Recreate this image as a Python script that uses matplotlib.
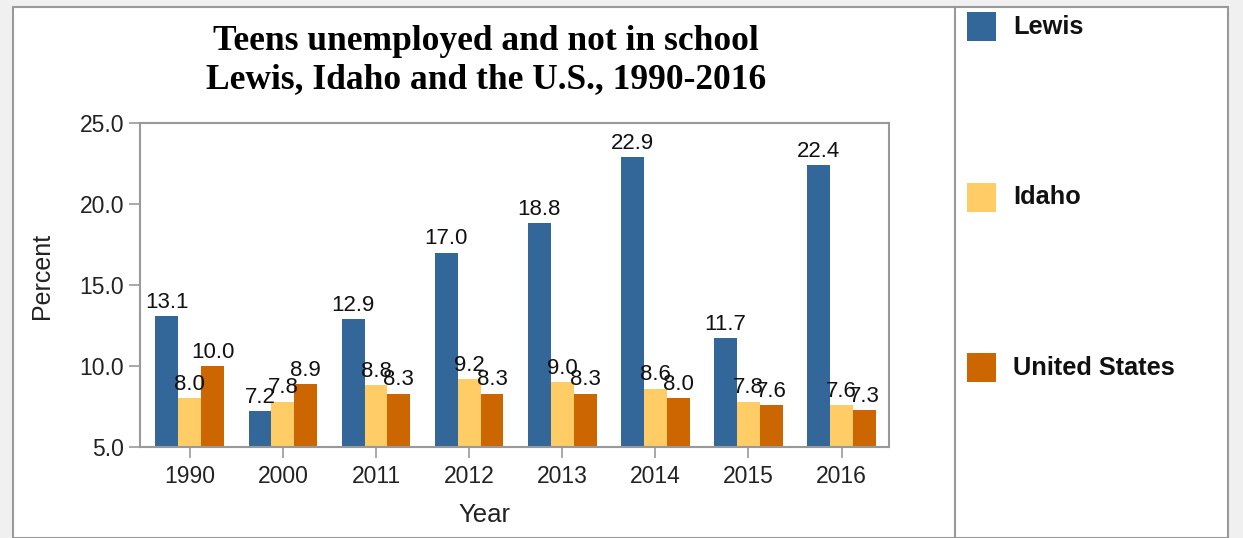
import numpy as np
import matplotlib.pyplot as plt
from matplotlib.patches import Rectangle
from matplotlib.lines import Line2D

years = ['1990', '2000', '2011', '2012', '2013', '2014', '2015', '2016']
lewis = [13.1, 7.2, 12.9, 17.0, 18.8, 22.9, 11.7, 22.4]
idaho = [8.0, 7.8, 8.8, 9.2, 9.0, 8.6, 7.8, 7.6]
us = [10.0, 8.9, 8.3, 8.3, 8.3, 8.0, 7.6, 7.3]
series = [('Lewis', lewis, '#336699'), ('Idaho', idaho, '#FFCC66'), ('United States', us, '#CC6600')]

W, H = 1243, 538
fig = plt.figure(figsize=(W / 100, H / 100), dpi=100, facecolor='#f0f0f0')

# white panel and divider (behind the axes)
fig.patches.append(Rectangle((13 / W, 0), (1228 - 13) / W, (H - 7) / H, transform=fig.transFigure,
                             facecolor='white', edgecolor='#999999', linewidth=1.5, zorder=-10))
fig.lines.append(Line2D([955 / W, 955 / W], [0, (H - 7) / H], transform=fig.transFigure,
                        color='#999999', linewidth=1.5, zorder=-5))

ax = fig.add_axes([140 / W, (H - 447) / H, (889 - 140) / W, (447 - 123) / H])
ax.set_facecolor('white')
x = np.arange(len(years))
bw = 0.246
for i, (name, vals, col) in enumerate(series):
    pos = x + (i - 1) * bw
    ax.bar(pos, [v - 5 for v in vals], bw, bottom=5, color=col, label=name)
    for p, v in zip(pos, vals):
        ax.text(p, v + 0.2, f'{v:.1f}', ha='center', va='bottom', fontsize=16,
                family='Liberation Sans', color='#111111')

ax.set_xlim(-0.535, len(years) - 0.49)
ax.set_ylim(5, 25)
ax.set_yticks([5, 10, 15, 20, 25])
ax.set_yticklabels([f'{t:.1f}' for t in [5, 10, 15, 20, 25]])
ax.set_xticks(x)
ax.set_xticklabels(years)
for s in ax.spines.values():
    s.set_color('#999999')
    s.set_linewidth(1.5)
ax.tick_params(colors='#999999', labelcolor='#222222', labelsize=16.5, length=8, width=1.2)
ax.tick_params(axis='x', pad=5)
for lab in ax.get_xticklabels() + ax.get_yticklabels():
    lab.set_family('Liberation Sans')
ax.set_xlabel('Year', fontsize=18.5, family='Liberation Sans', color='#222222')
ax.set_ylabel('Percent', fontsize=18, family='Liberation Sans', color='#222222')
ax.xaxis.set_label_coords((484.5 - 140) / 749, (447 - 515) / 324)
ax.xaxis.label.set_va('center')
ax.yaxis.set_label_coords((42 - 140) / 749, (447 - 276) / 324)
ax.yaxis.label.set_va('center')

fig.text(486 / W, 1 - 42 / H, 'Teens unemployed and not in school', ha='center', va='center',
         fontsize=25.5, fontweight='bold', family='Liberation Serif')
fig.text(486 / W, 1 - 80 / H, 'Lewis, Idaho and the U.S., 1990-2016', ha='center', va='center',
         fontsize=25.5, fontweight='bold', family='Liberation Serif')

# legend on the right
for k, (name, vals, col) in enumerate(series):
    ytop = 12 + k * 170.5
    fig.patches.append(Rectangle((967 / W, 1 - (ytop + 29) / H), 29 / W, 29 / H,
                                 transform=fig.transFigure, facecolor=col, edgecolor='none'))
    fig.text(1013 / W, 1 - (ytop + 15) / H, name, ha='left', va='center', fontsize=18.3,
             fontweight='bold', family='Liberation Sans', color='#111111')

fig.savefig('out.png', dpi=100, facecolor=fig.get_facecolor())
